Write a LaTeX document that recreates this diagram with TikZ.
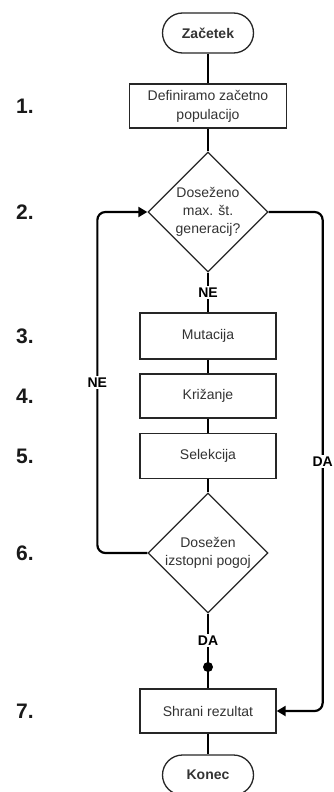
\documentclass[tikz,border=0pt]{standalone}
\usepackage{fontspec}
\setmainfont{Liberation Sans}
\usetikzlibrary{shapes.geometric,arrows.meta}
\definecolor{txt}{HTML}{333333}
\begin{document}
\begin{tikzpicture}[x=1pt,y=-1pt,
  box/.style={draw=black!85,line width=1.3pt,fill=white,minimum width=136pt,
    minimum height=45pt,align=center,font=\fontsize{14}{19}\selectfont,text=txt,inner sep=2pt},
  term/.style={box,rounded corners=20pt,minimum width=91pt,minimum height=40pt,
    font=\bfseries\fontsize{14}{16}\selectfont},
  decision/.style={diamond,draw=black!85,line width=1.3pt,fill=white,minimum width=120pt,
    minimum height=120pt,inner sep=0pt,aspect=1},
  dtext/.style={align=center,font=\fontsize{14}{18}\selectfont,text=txt,inner sep=0pt},
  flow/.style={line width=2.2pt,black},
  arr/.style={flow,-{Triangle[length=9pt,width=10pt]}},
  lbl/.style={fill=white,inner sep=1.5pt,font=\bfseries\fontsize{14}{16}\selectfont,text=black},
  stepnum/.style={anchor=west,font=\bfseries\fontsize{21}{23}\selectfont,text=black!90,inner sep=0pt}]
\useasboundingbox (0,0) rectangle (333,792);

\coordinate (dot) at (208,667);

% flowchart shapes
\node[term] (start) at (208,33) {Začetek};
\node[box,minimum width=157pt,minimum height=44pt] (init) at (208,106) {Definiramo začetno\\populacijo};
\node[decision] (d1) at (208,212) {};
\node[dtext] (d1t) at (d1.center) {Doseženo\\max. št.\\generacij?};
\node[box,minimum height=46pt] (mut) at (208,336) {Mutacija};
\node[box,minimum height=44pt] (cross) at (208,396) {Križanje};
\node[box] (sel) at (208,456) {Selekcija};
\node[decision] (d2) at (208,553) {};
\node[dtext] (d2t) at (d2.center) {Dosežen\\izstopni pogoj};
\node[box,minimum height=44pt] (save) at (208,711) {Shrani rezultat};
\node[term] (end) at (208,775) {Konec};

% main flow
\draw[flow] (start) -- (init);
\draw[flow] (init) -- (d1);
\draw[flow] (d1) -- node[lbl] {NE} (mut);
\draw[flow] (mut) -- (cross);
\draw[flow] (cross) -- (sel);
\draw[flow] (sel) -- (d2);
\draw[flow] (d2) -- node[lbl] {DA} (dot) -- (save);
\fill[black] (dot) circle (5pt);
\draw[flow] (save) -- (end);

% loop back while the exit condition is not met
\draw[arr,rounded corners=8pt] (d2.west) -- ++(-50,0) |- node[lbl,pos=0.25] {NE} (d1.west);
% leave the loop once the maximum number of generations is reached
\draw[arr,rounded corners=8pt] (d1.east) -- ++(54,0) |- node[lbl,pos=0.25] {DA} (save.east);

% step numbers
\node[stepnum] (n1) at (16,106) {1.};
\node[stepnum] (n2) at (16,212) {2.};
\node[stepnum] (n3) at (16,336) {3.};
\node[stepnum] (n4) at (16,396) {4.};
\node[stepnum] (n5) at (16,456) {5.};
\node[stepnum] (n6) at (16,553) {6.};
\node[stepnum] (n7) at (16,711) {7.};
\end{tikzpicture}
\end{document}
